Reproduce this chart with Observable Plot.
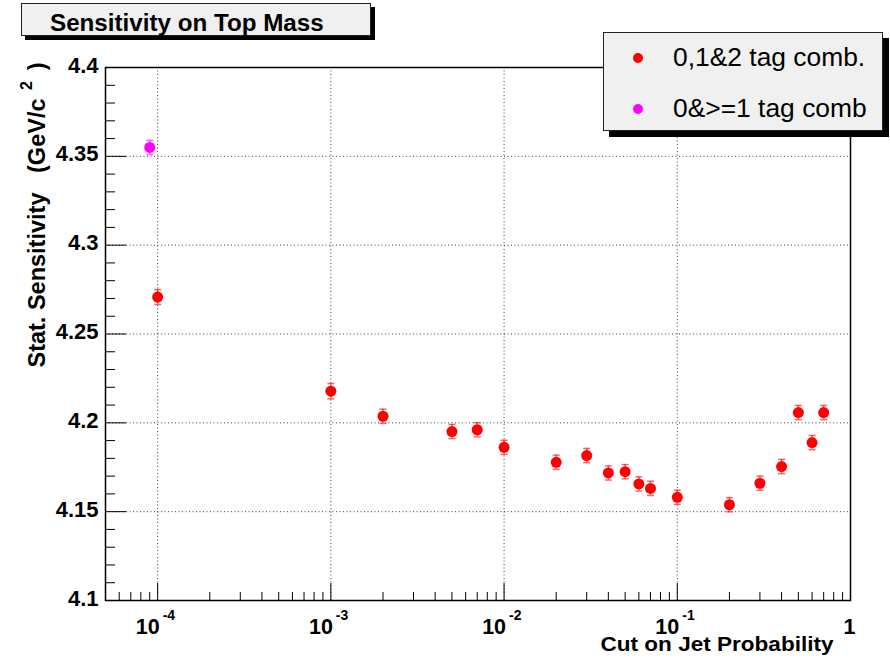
<!DOCTYPE html>
<html>
<head>
<meta charset="utf-8">
<script src="https://cdn.jsdelivr.net/npm/d3@7"></script>
<script src="https://cdn.jsdelivr.net/npm/@observablehq/plot@0.6"></script>
<style>
  html, body { margin: 0; padding: 0; background: #fff; }
  #wrap { position: relative; width: 890px; height: 658px; font-family: "Liberation Sans", Arial, Helvetica, sans-serif; }
  #wrap > svg { position: absolute; left: 0; top: 0; }
  .title-box {
    position: absolute; left: 21px; top: 3px; width: 350px; height: 33px;
    background: #f0f0f0; border: 1px solid #222; box-shadow: 4px 4px 0 #000;
    font-weight: bold; font-size: 24.2px; line-height: 37px; box-sizing: border-box;
    padding-left: 28px; color: #000; white-space: nowrap; overflow: visible;
  }
  .legend-box {
    position: absolute; left: 603px; top: 32px; width: 280px; height: 99px;
    background: #f0f0f0; border: 1px solid #222; box-shadow: 6px 6px 0 #000;
    box-sizing: border-box; font-size: 26.4px; color: #000;
  }
  .legend-row { position: absolute; left: 0; width: 270px; height: 30px; white-space: nowrap; }
  .legend-row .swatch { position: absolute; left: 28px; top: 10px; }
  .legend-row span { position: absolute; left: 69px; top: 0; line-height: 30px; }
</style>
</head>
<body>
<div id="wrap"></div>
<script>
// Jet-probability cut values and the resulting statistical sensitivity (GeV/c^2)
const cutValues = [1e-4, 1e-3, 2e-3, 5e-3, 7e-3, 1e-2, 2e-2, 3e-2, 4e-2, 5e-2, 6e-2, 7e-2, 0.1, 0.2, 0.3, 0.4, 0.5, 0.6, 0.7];
const sensitivity = [4.2708, 4.2178, 4.2037, 4.1951, 4.1961, 4.1862, 4.1778, 4.1816, 4.1718, 4.1725, 4.1656, 4.1631, 4.1581, 4.1539, 4.166, 4.1754, 4.2058, 4.1889, 4.2058];
const sensitivityErr = [0.0042, 0.0043, 0.0040, 0.0040, 0.0040, 0.0040, 0.0040, 0.0040, 0.0040, 0.0040, 0.0040, 0.0040, 0.0040, 0.0040, 0.0040, 0.0040, 0.0040, 0.0040, 0.0040];

// 0 & >=1 tag combination
const altCutValues = [9e-5];
const altSensitivity = [4.355];
const altSensitivityErr = [0.0040];

// Series names and colours
const seriesNames = ["0,1&2 tag comb.", "0&>=1 tag comb"];
const seriesColors = ["#ff0000", "#ff00ff"];

// Axis ticks and labels
const xDomain = [5e-5, 1];
const yDomain = [4.1, 4.4];
const xDecades = [1e-4, 1e-3, 1e-2, 1e-1, 1];
const xExponents = ["-4", "-3", "-2", "-1"];
const yMajor = [4.1, 4.15, 4.2, 4.25, 4.3, 4.35, 4.4];
const yTickLabels = ["4.1", "4.15", "4.2", "4.25", "4.3", "4.35", "4.4"];
const chartTitle = "Sensitivity on Top Mass";
const xTitle = "Cut on Jet Probability";
const yTitleMain = "Stat.\u00a0Sensitivity\u00a0\u00a0\u00a0(GeV/c";
const yTitleSup = "2";
const yTitleClose = ")";

const points = cutValues.map((x, i) => ({x, y: sensitivity[i], err: sensitivityErr[i], s: 0}));
const altPoints = altCutValues.map((x, i) => ({x, y: altSensitivity[i], err: altSensitivityErr[i], s: 1}));
const allPoints = points.concat(altPoints);

// Minor log ticks (2..9 within each decade) and minor linear ticks every 0.01
const xMinor = [];
for (let e = -5; e < 0; e++) for (let m = 2; m <= 9; m++) {
  const v = m * Math.pow(10, e);
  if (v >= xDomain[0] && v < xDomain[1]) xMinor.push(v);
}
const yMinor = d3.range(0, 31).map(i => +(4.1 + i * 0.01).toFixed(2)).filter(v => !yMajor.some(m => Math.abs(m - v) < 1e-9));

const W = 890, H = 658, mL = 105, mR = 40, mT = 67, mB = 58;
const innerW = W - mL - mR, innerH = H - mT - mB;

// horizontal bar used as an error-bar cap
const capSymbol = {
  draw(context, size) {
    const w = Math.sqrt(size / Math.PI);
    context.moveTo(-w, 0);
    context.lineTo(w, 0);
  }
};

const color = d => seriesColors[d.s];
const font = "Liberation Sans, Arial, Helvetica, sans-serif";
const bold = {fontWeight: "bold"};

const chart = Plot.plot({
  width: W,
  height: H,
  marginLeft: mL,
  marginRight: mR,
  marginTop: mT,
  marginBottom: mB,
  x: {type: "log", domain: xDomain, axis: null},
  y: {domain: yDomain, axis: null},
  style: {fontFamily: font, background: "transparent", overflow: "visible", color: "#000"},
  marks: [
    // dotted grid
    Plot.ruleX(xDecades.slice(0, 4), {x: d => d, stroke: "#000", strokeOpacity: 0.75, strokeDasharray: "1,2.5"}),
    Plot.ruleY(yMajor.slice(1, 6), {y: d => d, stroke: "#000", strokeOpacity: 0.75, strokeDasharray: "1,2.5"}),
    // inward ticks
    Plot.tickX(xDecades, {x: d => d, insetTop: innerH - 17, stroke: "#000"}),
    Plot.tickX(xMinor, {x: d => d, insetTop: innerH - 8, stroke: "#000"}),
    Plot.tickY(yMajor, {y: d => d, insetRight: innerW - 21, stroke: "#000"}),
    Plot.tickY(yMinor, {y: d => d, insetRight: innerW - 10, stroke: "#000"}),
    Plot.frame({stroke: "#000", strokeWidth: 1.5}),
    // error bars with caps
    Plot.ruleX(allPoints, {x: "x", y1: d => d.y - d.err, y2: d => d.y + d.err, stroke: color, strokeOpacity: 0.6, strokeWidth: 1.5}),
    Plot.dot(allPoints, {x: "x", y: d => d.y + d.err, r: 3.5, symbol: capSymbol, stroke: color, strokeOpacity: 0.6, strokeWidth: 1.5, fill: "none"}),
    Plot.dot(allPoints, {x: "x", y: d => d.y - d.err, r: 3.5, symbol: capSymbol, stroke: color, strokeOpacity: 0.6, strokeWidth: 1.5, fill: "none"}),
    // markers
    Plot.dot(allPoints, {x: "x", y: "y", r: 5.5, fill: color, stroke: "none"}),
    // x tick labels: 10 with superscript exponent
    Plot.text(xDecades.slice(0, 4), {x: d => d, text: () => "10", frameAnchor: "bottom", lineAnchor: "bottom", textAnchor: "end", dx: 2, dy: 33, fontSize: 21.5, ...bold}),
    Plot.text(xDecades.slice(0, 4), {x: d => d, text: (d, i) => xExponents[i], frameAnchor: "bottom", lineAnchor: "bottom", textAnchor: "start", dx: 5, dy: 19, fontSize: 14, ...bold}),
    Plot.text(xDecades.slice(4), {x: d => d, text: () => "1", frameAnchor: "bottom", lineAnchor: "bottom", textAnchor: "middle", dx: -1, dy: 33, fontSize: 21.5, ...bold}),
    // y tick labels
    Plot.text(yMajor, {y: d => d, text: (d, i) => yTickLabels[i], frameAnchor: "left", textAnchor: "end", lineAnchor: "middle", dx: -7, dy: -2, fontSize: 22, ...bold}),
    // x axis title
    Plot.text([xTitle], {text: d => d, frameAnchor: "bottom-right", textAnchor: "end", lineAnchor: "bottom", dx: -17, dy: 50, fontSize: 21, className: "x-title", ...bold}),
    // y axis title, with superscript
    Plot.text([yTitleMain], {text: d => d, frameAnchor: "top-left", textAnchor: "end", lineAnchor: "bottom", rotate: -90, dx: -61, dy: 31, fontSize: 23.5, ...bold}),
    Plot.text([yTitleSup], {text: d => d, frameAnchor: "top-left", textAnchor: "middle", lineAnchor: "bottom", rotate: -90, dx: -74, dy: 18, fontSize: 16, ...bold}),
    Plot.text([yTitleClose], {text: d => d, frameAnchor: "top-left", textAnchor: "end", lineAnchor: "bottom", rotate: -90, dx: -61, dy: -5, fontSize: 23.5, ...bold})
  ]
});

const wrap = document.getElementById("wrap");
wrap.appendChild(chart);

// the axis title is set slightly wider than its natural width
d3.select(chart).selectAll("g.x-title text")
  .attr("textLength", 233)
  .attr("lengthAdjust", "spacingAndGlyphs");

// title box
const titleBox = document.createElement("div");
titleBox.className = "title-box";
titleBox.textContent = chartTitle;
wrap.appendChild(titleBox);

// legend box
const legend = document.createElement("div");
legend.className = "legend-box";
seriesNames.forEach((name, i) => {
  const row = document.createElement("div");
  row.className = "legend-row";
  row.style.top = (i === 0 ? 9 : 60) + "px";
  const esc = name.replace(/&/g, "&amp;").replace(/>/g, "&gt;");
  row.innerHTML = `<svg class="swatch" width="12" height="12"><circle cx="6" cy="6" r="5" fill="${seriesColors[i]}"></circle></svg><span>${esc}</span>`;
  legend.appendChild(row);
});
wrap.appendChild(legend);
</script>
</body>
</html>
